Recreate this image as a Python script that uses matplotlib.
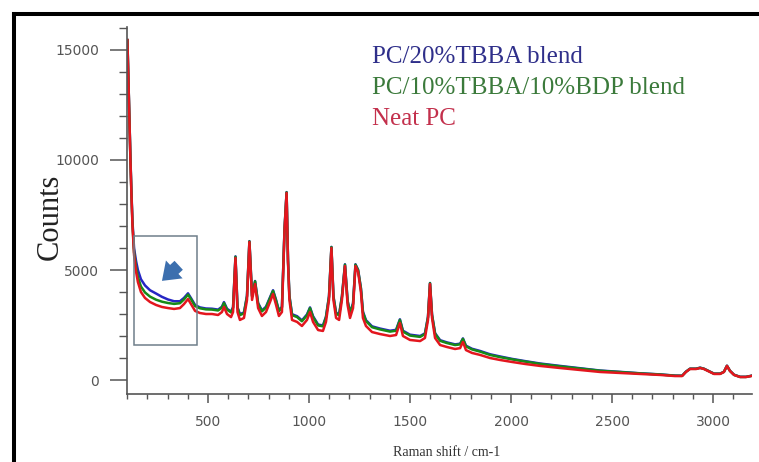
import matplotlib
matplotlib.use("Agg")
import matplotlib.pyplot as plt
from matplotlib.lines import Line2D
from matplotlib.patches import Rectangle
from matplotlib.ticker import MultipleLocator

# Raman spectra (shift in cm-1, intensity in counts)
raman_shift = [
    101, 106, 111, 116, 121, 126, 134, 144, 153, 168, 188, 213, 243, 272, 302,
    332, 361, 381, 401, 416, 436, 460, 490, 520, 550, 569, 579, 594, 614, 624,
    636, 646, 658, 678, 693, 705, 718, 733, 748, 767, 787, 807, 822, 837, 851,
    866, 879, 889, 896, 903, 916, 941, 965, 990, 1005, 1020, 1045, 1069, 1084,
    1099, 1111, 1121, 1134, 1149, 1163, 1178, 1191, 1203, 1218, 1230, 1243,
    1257, 1267, 1282, 1312, 1351, 1401, 1431, 1450, 1465, 1500, 1550, 1574,
    1589, 1599, 1609, 1624, 1649, 1683, 1723, 1748, 1762, 1777, 1807, 1847,
    1896, 1946, 2005, 2069, 2144, 2243, 2342, 2441, 2540, 2639, 2738, 2812,
    2847, 2866, 2886, 2916, 2936, 2955, 2975, 3005, 3035, 3054, 3069, 3084,
    3104, 3134, 3163, 3188,
]

neat_pc = [
    15450, 13640, 11820, 10000, 8410, 7045, 5680, 4910, 4450, 4000, 3730, 3545,
    3410, 3320, 3270, 3230, 3270, 3450, 3680, 3450, 3140, 3045, 3000, 3000,
    2955, 3090, 3320, 3000, 2860, 3090, 5545, 3090, 2730, 2820, 3640, 6270,
    3640, 4360, 3270, 2910, 3090, 3545, 3910, 3410, 2910, 3090, 6820, 8500,
    5360, 3640, 2730, 2640, 2455, 2730, 3090, 2640, 2270, 2230, 2640, 3640,
    6000, 3640, 2820, 2730, 3640, 5180, 3410, 2820, 3270, 5180, 4910, 4000,
    2820, 2455, 2180, 2090, 2000, 2045, 2590, 2000, 1820, 1770, 1910, 2730,
    4360, 2820, 1910, 1590, 1500, 1410, 1450, 1730, 1360, 1230, 1140, 1000,
    910, 820, 730, 640, 545, 455, 365, 320, 275, 230, 180, 180, 365, 500, 500,
    545, 500, 410, 275, 275, 365, 640, 410, 230, 135, 135, 180,
]

tbba_bdp_blend = [
    15450, 13640, 11840, 10030, 8460, 7120, 5800, 5110, 4680, 4250, 3980, 3790,
    3650, 3560, 3500, 3460, 3490, 3660, 3880, 3670, 3360, 3260, 3210, 3200,
    3160, 3290, 3500, 3200, 3070, 3280, 5600, 3280, 2950, 3030, 3800, 6300,
    3800, 4480, 3460, 3120, 3290, 3720, 4050, 3600, 3120, 3290, 6880, 8530,
    5450, 3800, 2950, 2860, 2670, 2940, 3270, 2860, 2480, 2440, 2840, 3780,
    6040, 3780, 3020, 2940, 3780, 5240, 3580, 3030, 3450, 5240, 4990, 4150,
    3060, 2680, 2400, 2300, 2200, 2240, 2730, 2200, 2020, 1960, 2090, 2850,
    4400, 2950, 2100, 1780, 1680, 1590, 1620, 1870, 1530, 1390, 1290, 1140,
    1040, 940, 840, 730, 620, 520, 420, 360, 300, 250, 195, 190, 375, 510, 510,
    555, 510, 420, 285, 285, 370, 645, 415, 235, 140, 140, 185,
]

tbba_blend = [
    15450, 13660, 11870, 10080, 8540, 7230, 5980, 5400, 5000, 4580, 4300, 4080,
    3930, 3780, 3660, 3580, 3580, 3730, 3940, 3720, 3410, 3300, 3250, 3240,
    3200, 3330, 3540, 3240, 3110, 3310, 5620, 3310, 2990, 3070, 3830, 6310,
    3830, 4500, 3500, 3160, 3330, 3760, 4080, 3640, 3160, 3330, 6900, 8540,
    5470, 3830, 2990, 2900, 2710, 2980, 3300, 2900, 2520, 2480, 2880, 3810,
    6050, 3810, 3060, 2980, 3810, 5260, 3610, 3070, 3490, 5260, 5010, 4180,
    3110, 2720, 2440, 2340, 2240, 2280, 2760, 2240, 2060, 2000, 2120, 2870,
    4410, 2970, 2130, 1810, 1710, 1620, 1650, 1890, 1560, 1420, 1320, 1170,
    1070, 960, 860, 750, 640, 535, 430, 370, 305, 255, 200, 195, 380, 515, 515,
    560, 515, 425, 290, 290, 375, 650, 420, 240, 145, 145, 190,
]

series_labels = ["PC/20%TBBA blend", "PC/10%TBBA/10%BDP blend", "Neat PC"]
line_colors = ["#2626c4", "#178a17", "#e3161e"]
text_colors = ["#2f2f8a", "#3b7a3b", "#c3304c"]

x_major = [500, 1000, 1500, 2000, 2500, 3000]
y_major = [0, 5000, 10000, 15000]

W, H = 759, 462
fig = plt.figure(figsize=(W / 100, H / 100), dpi=100)
fig.patch.set_facecolor("white")

ax = fig.add_axes([127 / W, 1 - 394 / H, (752 - 127) / W, (394 - 27) / H])

for y, c in zip([tbba_blend, tbba_bdp_blend, neat_pc], line_colors):
    ax.plot(raman_shift, y, color=c, lw=1.8, solid_joinstyle="round")

ax.set_xlim(99, 3193)
ax.set_ylim(-636, 16045)

for side in ("top", "right"):
    ax.spines[side].set_visible(False)
for side in ("left", "bottom"):
    ax.spines[side].set_color("#555555")
    ax.spines[side].set_linewidth(1.2)

ax.set_xticks(x_major)
ax.set_yticks(y_major)
ax.xaxis.set_minor_locator(MultipleLocator(100))
ax.yaxis.set_minor_locator(MultipleLocator(1000))
ax.tick_params(axis="x", which="major", length=6.5, width=1.1, color="#555555",
               pad=8.5, labelsize=10, labelcolor="#555555")
ax.tick_params(axis="x", which="minor", length=3.6, width=1.0, color="#555555")
ax.tick_params(axis="y", which="major", length=12, width=1.1, color="#555555",
               pad=8, labelsize=10, labelcolor="#555555")
ax.tick_params(axis="y", which="minor", length=5.8, width=1.0, color="#555555")

# highlighted low-shift region and pointer
ax.add_patch(Rectangle((134, 1590), 446 - 134, 6545 - 1590, fill=False,
                       edgecolor="#6f7f8a", lw=1.1, zorder=5))
ax.annotate("", xy=(262, 4420), xytext=(365, 5300),
            arrowprops=dict(arrowstyle="simple,head_length=0.55,head_width=0.8,tail_width=0.4",
                            color="#3c6fae", lw=0, mutation_scale=22), zorder=6)

# legend-style labels
for i, (lab, c) in enumerate(zip(series_labels, text_colors)):
    fig.text(372 / W, 1 - (63 + i * 31) / H, lab, color=c, fontsize=18,
             family="Liberation Serif", ha="left", va="baseline")

fig.text(50 / W, 1 - 217 / H, "Counts", rotation=90, fontsize=22,
         family="Liberation Serif", color="#222222", ha="center", va="center")
fig.text(447 / W, 1 - 452 / H, "Raman shift / cm-1", fontsize=10,
         family="Liberation Serif", color="#333333", ha="center", va="center")

# outer frame along top and left edges
fx, fy = 14 / W, 1 - 14 / H
fig.add_artist(Line2D([fx, 1.0], [fy, fy], transform=fig.transFigure,
                      color="black", lw=2.9, solid_capstyle="projecting"))
fig.add_artist(Line2D([fx, fx], [0.0, fy], transform=fig.transFigure,
                      color="black", lw=2.9, solid_capstyle="projecting"))

fig.savefig("out.png", dpi=100, facecolor="white")
